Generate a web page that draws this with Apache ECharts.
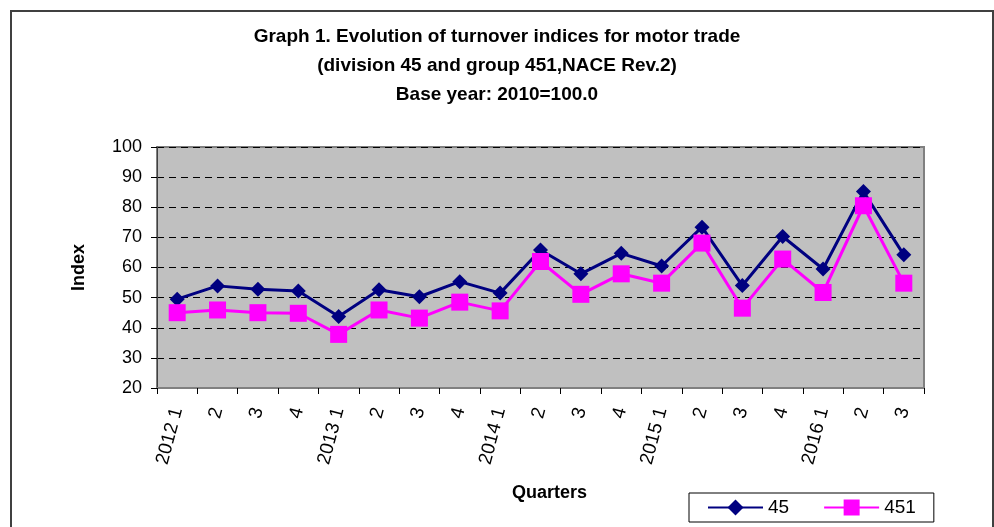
<!DOCTYPE html>
<html>
<head>
<meta charset="utf-8">
<title>Turnover indices for motor trade</title>
<script src="https://cdn.jsdelivr.net/npm/echarts@6/dist/echarts.min.js"></script>
<style>
    html, body { margin: 0; padding: 0; background: #fff; }
    #main { width: 994px; height: 527px; }
</style>
</head>
<body>
<div id="main"></div>
<script>
    // quarters 2012 Q1 .. 2016 Q3
    var quarters = ['2012 1', '2', '3', '4', '2013 1', '2', '3', '4', '2014 1', '2', '3', '4',
        '2015 1', '2', '3', '4', '2016 1', '2', '3']
    // division 45
    var div45 = [49.5, 53.9, 52.8, 52.2, 43.7, 52.6, 50.3, 55.3, 51.5, 65.8, 57.9, 64.7,
        60.5, 73.4, 54.0, 70.3, 59.5, 85.2, 64.2]
    // group 451
    var grp451 = [45.0, 45.9, 45.0, 44.8, 37.8, 45.9, 43.2, 48.5, 45.6, 62.0, 51.1, 57.9,
        54.8, 68.1, 46.5, 62.8, 51.7, 80.5, 54.8]
    var titleLines = ['Graph 1. Evolution of turnover indices for motor trade',
        '(division 45 and group 451,NACE Rev.2)',
        'Base year: 2010=100.0']

    var font = 'Arial, "Liberation Sans", sans-serif'
    var chart = echarts.init(document.getElementById('main'))

    chart.setOption({
        animation: false,
        textStyle: { fontFamily: font, color: '#000' },
        title: {
            text: titleLines.join('\n'),
            left: 'center',
            top: 17,
            textStyle: {
                fontFamily: font,
                fontSize: 19,
                fontWeight: 'bold',
                lineHeight: 29,
                color: '#000'
            }
        },
        // outer frame
        graphic: [{
            type: 'rect',
            shape: { x: 11, y: 11, width: 982, height: 540 },
            style: { fill: 'none', stroke: '#404040', lineWidth: 2 },
            silent: true
        }],
        legend: {
            left: 689,
            top: 493,
            padding: [5, 18, 5, 18],
            itemGap: 34,
            itemWidth: 55,
            itemHeight: 20,
            borderColor: '#000',
            borderWidth: 1,
            textStyle: { fontSize: 19, color: '#000', fontFamily: font },
            data: ['45', '451']
        },
        grid: {
            left: 157,
            right: 70,
            top: 147,
            bottom: 139,
            show: true,
            backgroundColor: '#c0c0c0',
            borderColor: '#808080',
            borderWidth: 2
        },
        xAxis: {
            type: 'category',
            data: quarters,
            boundaryGap: true,
            name: 'Quarters',
            nameLocation: 'middle',
            nameGap: 96,
            nameTextStyle: { fontSize: 18, fontWeight: 'bold', color: '#000', padding: [0, 0, 0, 18] },
            axisLine: { lineStyle: { color: '#808080', width: 2 } },
            axisTick: { show: true, interval: 0, length: 6, lineStyle: { color: '#000' } },
            axisLabel: {
                interval: 0,
                rotate: 75,
                margin: 20,
                fontSize: 19,
                color: '#000'
            }
        },
        yAxis: {
            type: 'value',
            min: 20,
            max: 100,
            interval: 10,
            name: 'Index',
            nameLocation: 'middle',
            nameRotate: 90,
            nameGap: 69,
            nameTextStyle: { fontSize: 18, fontWeight: 'bold', color: '#000' },
            axisLine: { show: true, lineStyle: { color: '#404040', width: 1 } },
            axisTick: { show: true, length: 6, lineStyle: { color: '#000' } },
            axisLabel: { fontSize: 18, color: '#000', margin: 15 },
            splitLine: {
                show: true,
                lineStyle: { color: '#000', type: [7, 5], width: 1 }
            }
        },
        series: [
            {
                name: '45',
                type: 'line',
                data: div45,
                symbol: 'diamond',
                symbolSize: 15,
                itemStyle: { color: '#000080' },
                lineStyle: { color: '#000080', width: 3 }
            },
            {
                name: '451',
                type: 'line',
                data: grp451,
                symbol: 'rect',
                symbolSize: 17,
                itemStyle: { color: '#ff00ff' },
                lineStyle: { color: '#ff00ff', width: 3 }
            }
        ]
    })
</script>
</body>
</html>
